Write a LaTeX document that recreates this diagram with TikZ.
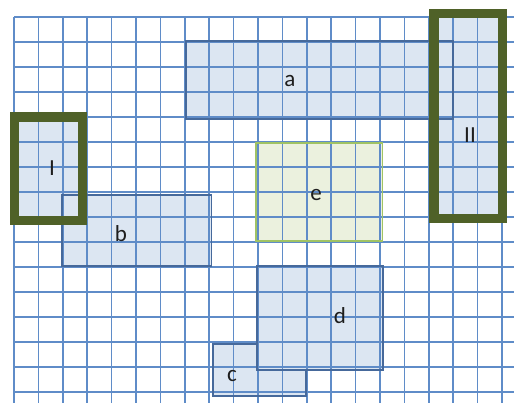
\documentclass[tikz,border=0pt]{standalone}
\usepackage{fontspec}
\setmainfont{Carlito}
\definecolor{gridblue}{RGB}{95,140,200}
\definecolor{boxfill}{RGB}{220,230,242}
\definecolor{boxline}{RGB}{70,105,155}
\definecolor{efill}{RGB}{235,241,222}
\definecolor{eline}{RGB}{160,195,100}
\definecolor{olive}{RGB}{79,97,40}
\definecolor{txt}{RGB}{30,30,30}
\tikzset{
  gridline/.style={draw=gridblue,line width=1.7pt},
  boxborder/.style={draw=boxline,line width=1.6pt},
  frame/.style={draw=olive,line width=9.3pt},
  lbl/.style={text=txt,font=\fontsize{23}{26}\selectfont,anchor=base,inner sep=0pt}
}
\begin{document}
\begin{tikzpicture}[x=1pt,y=-1pt]
\useasboundingbox (0,0) rectangle (514,403);
\fill[white] (0,0) rectangle (514,403);
% fills
\fill[boxfill] (186,41) rectangle (453,119);
\fill[boxfill] (434,13.3) rectangle (502.8,218.7);
\fill[boxfill] (14.5,117) rectangle (82.8,220.3);
\fill[boxfill] (62,195) rectangle (211.5,266);
\fill[efill] (256,143) rectangle (382.7,241);
\fill[boxfill] (213,344) rectangle (306,396);
\fill[boxfill] (257,266) rectangle (383,370);
% grid
\foreach \k in {0,...,20} {
  \draw[gridline] ({14+24.4*\k},17) -- ({14+24.4*\k},403);
}
\foreach \k in {0,...,15} {
  \draw[gridline] (14,{17+25*\k}) -- (514,{17+25*\k});
}
% borders
\draw[boxborder] (186,41) rectangle (453,119);
\draw[boxborder] (62,195) rectangle (211.5,266);
\draw[draw=eline,line width=1.2pt] (256,143) rectangle (382.7,241);
\draw[boxborder] (257,344) -- (213,344) -- (213,396) -- (306,396) -- (306,370);
\draw[boxborder] (257,266) rectangle (383,370);
% frames
\draw[frame] (14.5,117) rectangle (82.8,220.3);
\draw[frame] (434,13.3) rectangle (502.8,218.7);
% labels
\node[lbl] (la) at (290,86.5) {a};
\node[lbl] (lb) at (121,242) {b};
\node[lbl] (lc) at (232,381) {c};
\node[lbl] (ld) at (340,323.5) {d};
\node[lbl] (le) at (316,201) {e};
\node[lbl] (lI) at (52,176) {I};
\node[lbl] (lII) at (470,143) {II};
\end{tikzpicture}
\end{document}
